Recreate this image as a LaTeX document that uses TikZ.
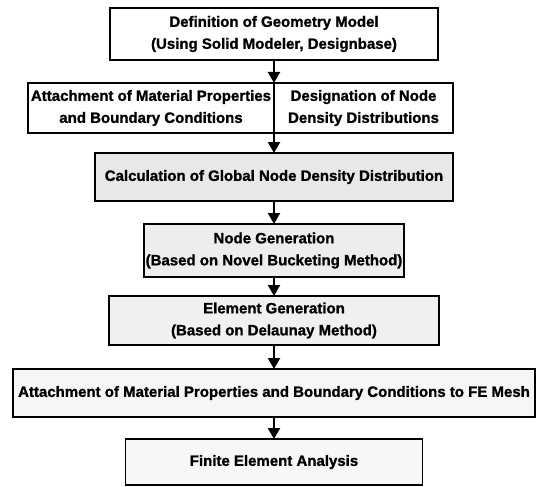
\documentclass[tikz,border=0pt]{standalone}
\usepackage{fontspec}
\setmainfont[BoldFeatures={FakeBold=1.2}]{Liberation Sans}
\usetikzlibrary{positioning,arrows.meta}

\begin{document}
\begin{tikzpicture}[x=1pt,y=1pt,node distance=22pt,
   box/.style={draw,line width=1.4pt,outer sep=0pt,align=center,inner xsep=1pt,
     font=\fontsize{15}{22}\selectfont\bfseries},
   flow/.style={-{Triangle[length=11pt,width=12pt]},line width=2.2pt}]
   \useasboundingbox (0,0) rectangle (536,-487);
   \node[box,minimum width=328pt,minimum height=52pt] (geom) at (274,-34)
     {Definition of Geometry Model\\(Using Solid Modeler, Designbase)};
   \node[box,minimum width=246pt,minimum height=50pt] (attach) [below left=23pt and 0pt of geom.south]
     {Attachment of Material Properties\\and Boundary Conditions};
   \node[box,minimum width=179pt,minimum height=50pt] (density) [right=0pt of attach]
     {Designation of Node\\Density Distributions};
   \node[box,fill=gray!18,minimum width=358pt,minimum height=48pt] (global) [below=20pt of attach.south east]
     {Calculation of Global Node Density Distribution};
   \node[box,fill=gray!14,minimum width=260pt,minimum height=53pt] (nodegen) [below=23pt of global]
     {Node Generation\\(Based on Novel Bucketing Method)};
   \node[box,fill=gray!12,minimum width=330pt,minimum height=49pt] (elemgen) [below=19pt of nodegen]
     {Element Generation\\(Based on Delaunay Method)};
   \node[box,fill=gray!7,minimum width=522pt,minimum height=48pt] (mesh) [below=24pt of elemgen]
     {Attachment of Material Properties and Boundary Conditions to FE Mesh};
   \node[box,fill=gray!6,minimum width=297pt,minimum height=46pt] (fea) [below=22pt of mesh]
     {Finite Element Analysis};
    \path[flow]
    (geom) edge (density.north west)
    (attach.south east) edge (global)
    (global) edge (nodegen)
    (nodegen) edge (elemgen)
    (elemgen) edge (mesh)
    (mesh) edge (fea);
\end{tikzpicture}
\end{document}
